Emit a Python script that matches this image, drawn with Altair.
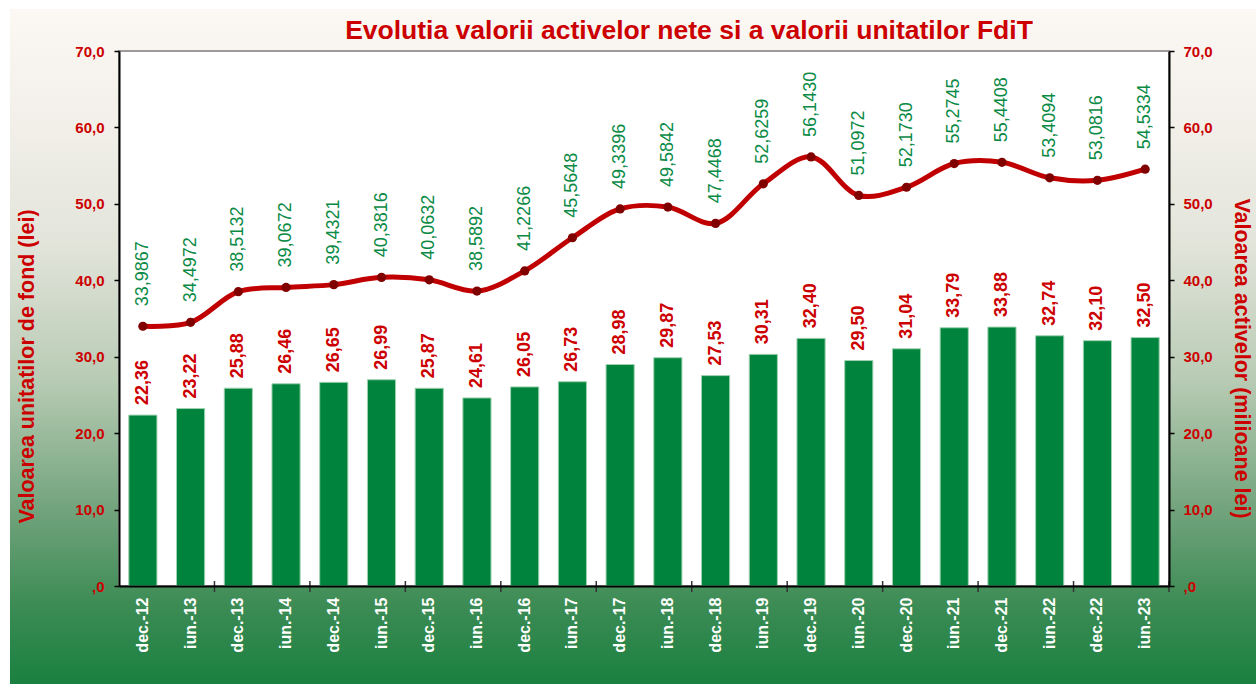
import altair as alt
import pandas as pd

categories = ["dec.-12", "iun.-13", "dec.-13", "iun.-14", "dec.-14", "iun.-15", "dec.-15",
              "iun.-16", "dec.-16", "iun.-17", "dec.-17", "iun.-18", "dec.-18", "iun.-19",
              "dec.-19", "iun.-20", "dec.-20", "iun.-21", "dec.-21", "iun.-22", "dec.-22",
              "iun.-23"]
unit_values = [22.36, 23.22, 25.88, 26.46, 26.65, 26.99, 25.87, 24.61, 26.05, 26.73, 28.98,
               29.87, 27.53, 30.31, 32.40, 29.50, 31.04, 33.79, 33.88, 32.74, 32.10, 32.50]
asset_values = [33.9867, 34.4972, 38.5132, 39.0672, 39.4321, 40.3816, 40.0632, 38.5892,
                41.2266, 45.5648, 49.3396, 49.5842, 47.4468, 52.6259, 56.1430, 51.0972,
                52.1730, 55.2745, 55.4408, 53.4094, 53.0816, 54.5334]
y_ticks = [0, 10, 20, 30, 40, 50, 60, 70]
title_text = "Evolutia valorii activelor nete si a valorii unitatilor FdiT"

df = pd.DataFrame({"cat": categories, "unit": unit_values, "assets": asset_values})
df["unit_lbl"] = [f"{v:.2f}".replace(".", ",") for v in unit_values]
df["assets_lbl"] = [f"{v:.4f}".replace(".", ",") for v in asset_values]
tick_df = pd.DataFrame({"cat": categories[1::2]})

W, H = 1050, 535
SANS = "Liberation Sans, Arial, Helvetica"
RED = "#cc0000"
GREEN = "#00843d"
P_IN = 0.41
STEP = W / len(categories)

yfmt = "datum.value == 0 ? ',0' : replace(format(datum.value, '.1f'), '.', ',')"

xscale = alt.Scale(domain=categories, paddingInner=P_IN, paddingOuter=P_IN / 2)
xaxis = alt.Axis(title=None, labelAngle=-90, labelColor="white", labelFont=SANS,
                 labelFontSize=16, labelFontWeight="bold", labelPadding=11,
                 ticks=False, domainColor="#000000", domainWidth=2, zindex=2)
X = alt.X("cat:N", scale=xscale, sort=categories, axis=xaxis)

base = alt.Chart(df)

one = alt.Data(values=[{"k": 1}])
grad = alt.Gradient(
    gradient="linear", x1=0, y1=0, x2=0, y2=1,
    stops=[
        alt.GradientStop(color="#fcf8f4", offset=0.0),
        alt.GradientStop(color="#f1efe8", offset=0.18),
        alt.GradientStop(color="#e2e4da", offset=0.35),
        alt.GradientStop(color="#b8cbb4", offset=0.55),
        alt.GradientStop(color="#6fa27a", offset=0.75),
        alt.GradientStop(color="#3d8c55", offset=0.88),
        alt.GradientStop(color="#1a8040", offset=1.0),
    ],
)
bg = alt.Chart(one).mark_rect(color=grad).encode(
    x=alt.value(-109), x2=alt.value(W + 87), y=alt.value(-42), y2=alt.value(H + 98)
)
plot_bg = alt.Chart(one).mark_rect(fill="white", stroke="#9a9a9a", strokeWidth=2).encode(
    x=alt.value(0), x2=alt.value(W), y=alt.value(0), y2=alt.value(H)
)
title = alt.Chart(one).mark_text(
    text=title_text, font=SANS, fontSize=26.5, fontWeight="bold", color=RED,
    align="center", baseline="alphabetic"
).encode(x=alt.value(W / 2 + 45), y=alt.value(-12))

yleft = alt.Y("unit:Q", scale=alt.Scale(domain=[0, 70]),
              axis=alt.Axis(values=y_ticks, labelExpr=yfmt, grid=False, orient="left",
                            title="Valoarea unitatilor de fond (lei)",
                            titleX=-92, titleY=315, titleBaseline="middle",
                            titleFont=SANS, titleFontSize=21.5, titleFontWeight="bold",
                            titleColor=RED, labelFont=SANS, labelFontSize=15,
                            labelFontWeight="bold", labelColor=RED, labelPadding=10,
                            domainColor="#000000", domainWidth=2, tickColor="#000000",
                            tickWidth=1.5, tickSize=5, zindex=2))

bars = base.mark_bar(color=GREEN, stroke="#9fd2b0", strokeWidth=1).encode(x=X, y=yleft)
bar_text = base.mark_text(font=SANS, fontSize=18, fontWeight="bold", color=RED,
                          angle=270, align="left", baseline="middle", dx=10).encode(
    x=X, y=alt.Y("unit:Q"), text="unit_lbl:N",
)
xticks = alt.Chart(tick_df).mark_rule(color="#333333", strokeWidth=1.5,
                                      xOffset=STEP / 2).encode(
    x=X, y=alt.value(H - 5), y2=alt.value(H + 6),
)
left = alt.layer(bars, bar_text, xticks)

yright = alt.Y("assets:Q", scale=alt.Scale(domain=[0, 70]),
               axis=alt.Axis(values=y_ticks, labelExpr=yfmt, grid=False, orient="right",
                             title="Valoarea activelor (milioane lei)",
                             titleX=71, titleY=307, titleBaseline="middle", titleAngle=90,
                             titleFont=SANS, titleFontSize=21.5, titleFontWeight="bold",
                             titleColor=RED, labelFont=SANS, labelFontSize=15,
                             labelFontWeight="bold", labelColor=RED, labelPadding=9,
                             domainColor="#000000", domainWidth=2, tickColor="#000000",
                             tickWidth=1.5, tickSize=5, zindex=2))

line = base.mark_line(color="#c00000", strokeWidth=5, interpolate="catmull-rom").encode(
    x=X, y=yright,
)
pts = base.mark_point(filled=True, color="#800000", size=85, opacity=1).encode(
    x=X, y=alt.Y("assets:Q"),
)
line_text = base.mark_text(font=SANS, fontSize=18, color="#0a8a45", angle=270,
                           align="left", baseline="middle", dx=20).encode(
    x=X, y=alt.Y("assets:Q"), text="assets_lbl:N",
)
right = alt.layer(line, pts, line_text)

chart = alt.layer(bg, plot_bg, title, left, right).resolve_scale(y="independent").properties(
    width=W, height=H,
    autosize=alt.AutoSizeParams(type="none"),
    padding={"left": 119, "top": 51, "right": 87, "bottom": 98},
    background="white",
).configure_view(strokeWidth=0)

chart.save("out.html", embed_options={"renderer": "svg", "actions": False})
